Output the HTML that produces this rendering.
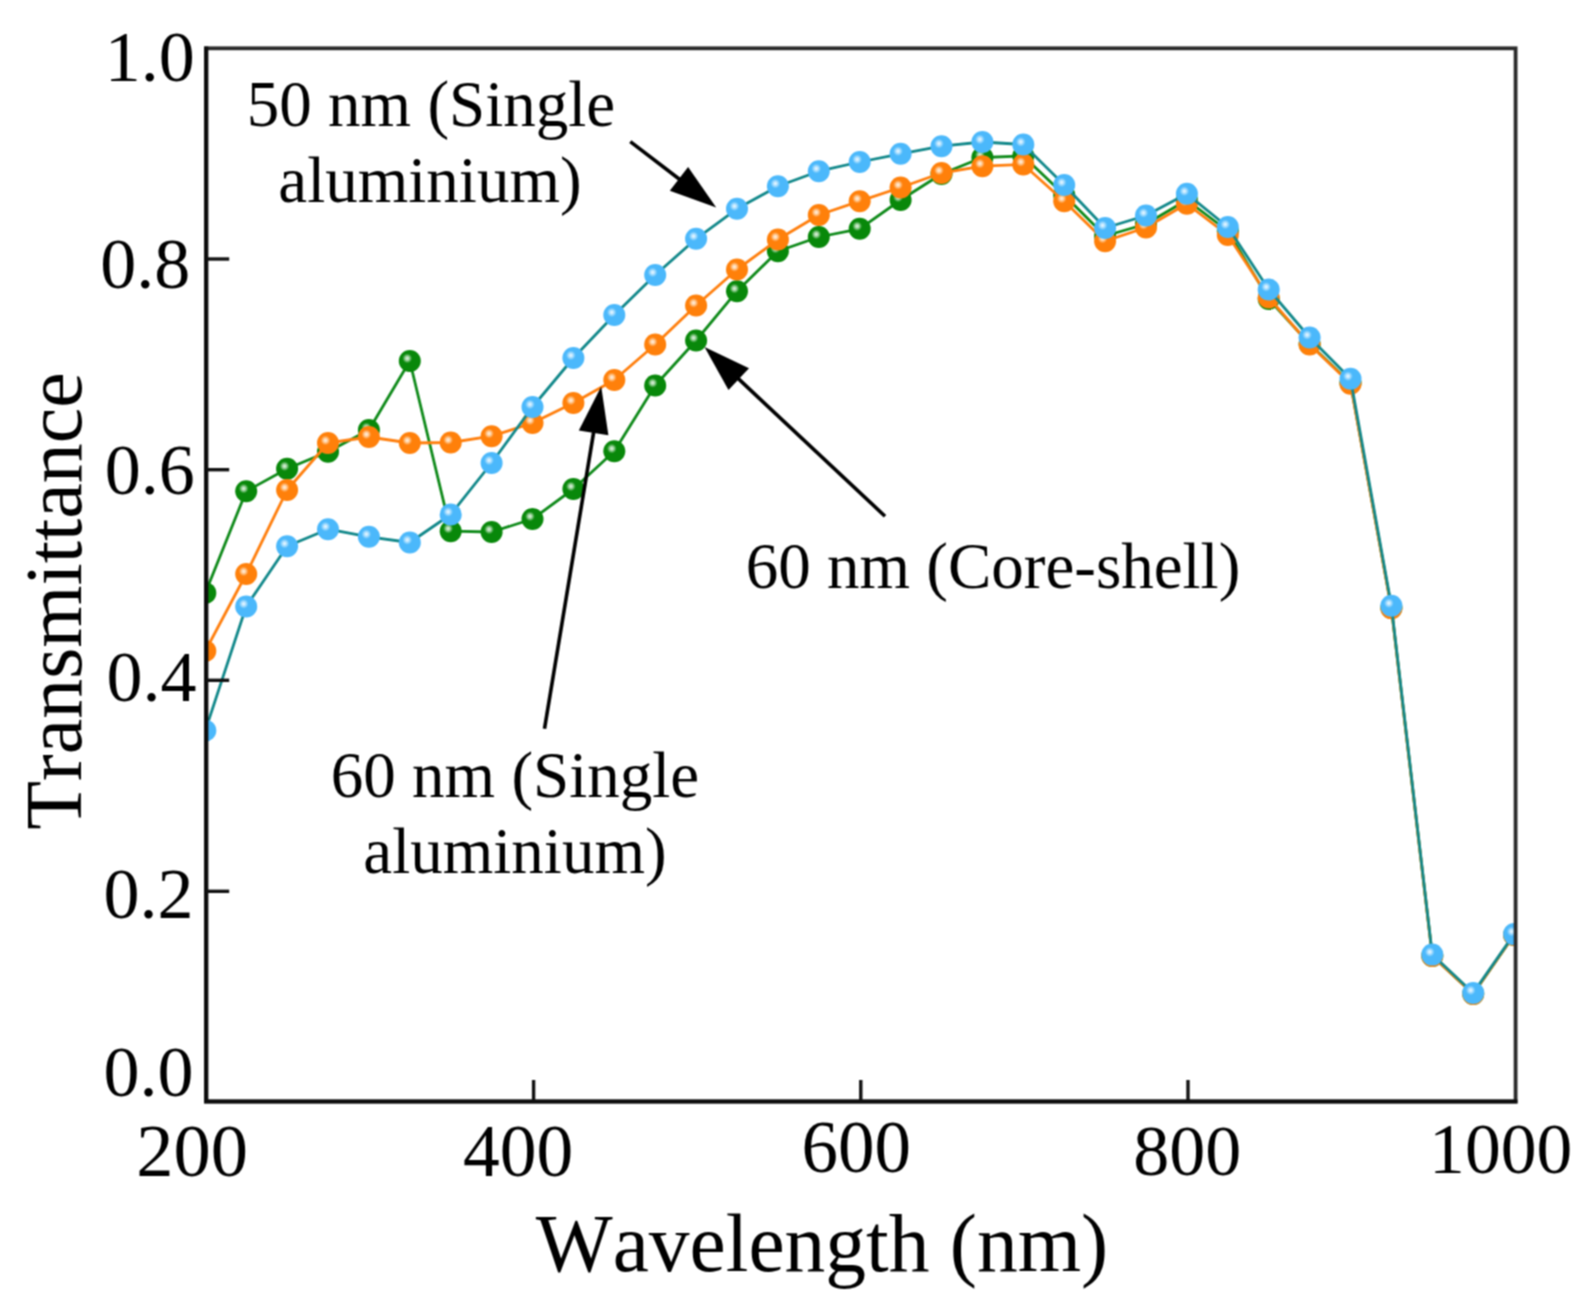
<!DOCTYPE html>
<html lang="en"><head><meta charset="utf-8"><title>Transmittance vs Wavelength</title>
<style>html,body{margin:0;padding:0;background:#fff}body{width:1580px;height:1306px;overflow:hidden}</style></head>
<body>
<svg width="1580" height="1306" viewBox="0 0 1580 1306" style="display:block;font-family:'Liberation Serif',serif;font-kerning:none">
<defs>
<filter id="soft" x="0" y="0" width="1580" height="1306" filterUnits="userSpaceOnUse" color-interpolation-filters="sRGB"><feConvolveMatrix order="3" kernelMatrix="1 2 1 2 4 2 1 2 1" divisor="16" edgeMode="duplicate" preserveAlpha="false"/></filter>
<radialGradient id="gG" cx="0.385" cy="0.38" r="0.5"><stop offset="0" stop-color="#e6f5e6"/><stop offset="0.17" stop-color="#a9d8a9"/><stop offset="0.44" stop-color="#08880a"/><stop offset="1" stop-color="#08880a"/></radialGradient>
<radialGradient id="gO" cx="0.385" cy="0.38" r="0.5"><stop offset="0" stop-color="#fff3e6"/><stop offset="0.17" stop-color="#ffd4a8"/><stop offset="0.44" stop-color="#ff800a"/><stop offset="1" stop-color="#ff800a"/></radialGradient>
<radialGradient id="gB" cx="0.385" cy="0.38" r="0.5"><stop offset="0" stop-color="#f0faff"/><stop offset="0.17" stop-color="#b9e4ff"/><stop offset="0.44" stop-color="#4bb8fb"/><stop offset="1" stop-color="#4bb8fb"/></radialGradient>
<clipPath id="clip"><rect x="206" y="48" width="1310" height="1053.5"/></clipPath>
</defs>
<g filter="url(#soft)">
<rect width="1580" height="1306" fill="#fff"/>
<g clip-path="url(#clip)">
<polyline points="205.3,593.0 246.2,491.2 287.1,468.8 328.0,451.8 368.9,430.0 409.8,361.0 450.7,531.2 491.6,532.0 532.5,519.0 573.4,489.0 614.3,451.2 655.2,385.5 696.1,340.5 737.0,291.2 777.9,251.2 818.8,237.0 859.7,228.8 900.6,200.0 941.5,174.0 982.4,157.5 1023.3,156.0 1064.2,195.0 1105.1,236.0 1146.0,224.0 1186.9,200.0 1227.8,231.0 1268.7,299.0 1309.6,344.0 1350.5,383.0 1391.4,608.0 1432.3,956.0 1473.2,994.0 1514.1,935.0" fill="none" stroke="#0f8a1a" stroke-width="2.8" stroke-linejoin="round"/>
<circle cx="205.3" cy="593.0" r="11" fill="url(#gG)"/>
<circle cx="246.2" cy="491.2" r="11" fill="url(#gG)"/>
<circle cx="287.1" cy="468.8" r="11" fill="url(#gG)"/>
<circle cx="328.0" cy="451.8" r="11" fill="url(#gG)"/>
<circle cx="368.9" cy="430.0" r="11" fill="url(#gG)"/>
<circle cx="409.8" cy="361.0" r="11" fill="url(#gG)"/>
<circle cx="450.7" cy="531.2" r="11" fill="url(#gG)"/>
<circle cx="491.6" cy="532.0" r="11" fill="url(#gG)"/>
<circle cx="532.5" cy="519.0" r="11" fill="url(#gG)"/>
<circle cx="573.4" cy="489.0" r="11" fill="url(#gG)"/>
<circle cx="614.3" cy="451.2" r="11" fill="url(#gG)"/>
<circle cx="655.2" cy="385.5" r="11" fill="url(#gG)"/>
<circle cx="696.1" cy="340.5" r="11" fill="url(#gG)"/>
<circle cx="737.0" cy="291.2" r="11" fill="url(#gG)"/>
<circle cx="777.9" cy="251.2" r="11" fill="url(#gG)"/>
<circle cx="818.8" cy="237.0" r="11" fill="url(#gG)"/>
<circle cx="859.7" cy="228.8" r="11" fill="url(#gG)"/>
<circle cx="900.6" cy="200.0" r="11" fill="url(#gG)"/>
<circle cx="941.5" cy="174.0" r="11" fill="url(#gG)"/>
<circle cx="982.4" cy="157.5" r="11" fill="url(#gG)"/>
<circle cx="1023.3" cy="156.0" r="11" fill="url(#gG)"/>
<circle cx="1064.2" cy="195.0" r="11" fill="url(#gG)"/>
<circle cx="1105.1" cy="236.0" r="11" fill="url(#gG)"/>
<circle cx="1146.0" cy="224.0" r="11" fill="url(#gG)"/>
<circle cx="1186.9" cy="200.0" r="11" fill="url(#gG)"/>
<circle cx="1227.8" cy="231.0" r="11" fill="url(#gG)"/>
<circle cx="1268.7" cy="299.0" r="11" fill="url(#gG)"/>
<circle cx="1309.6" cy="344.0" r="11" fill="url(#gG)"/>
<circle cx="1350.5" cy="383.0" r="11" fill="url(#gG)"/>
<circle cx="1391.4" cy="608.0" r="11" fill="url(#gG)"/>
<circle cx="1432.3" cy="956.0" r="11" fill="url(#gG)"/>
<circle cx="1473.2" cy="994.0" r="11" fill="url(#gG)"/>
<circle cx="1514.1" cy="935.0" r="11" fill="url(#gG)"/>

<polyline points="205.3,651.0 246.2,574.0 287.1,490.0 328.0,443.0 368.9,437.0 409.8,443.0 450.7,442.5 491.6,436.2 532.5,423.0 573.4,403.0 614.3,380.0 655.2,344.5 696.1,305.5 737.0,269.5 777.9,239.5 818.8,215.0 859.7,201.2 900.6,187.5 941.5,173.0 982.4,166.2 1023.3,164.5 1064.2,201.2 1105.1,241.2 1146.0,227.5 1186.9,203.8 1227.8,235.0 1268.7,297.5 1309.6,344.5 1350.5,383.8 1391.4,608.2 1432.3,956.0 1473.2,994.0 1514.1,935.0" fill="none" stroke="#ff7f0e" stroke-width="2.8" stroke-linejoin="round"/>
<circle cx="205.3" cy="651.0" r="11" fill="url(#gO)"/>
<circle cx="246.2" cy="574.0" r="11" fill="url(#gO)"/>
<circle cx="287.1" cy="490.0" r="11" fill="url(#gO)"/>
<circle cx="328.0" cy="443.0" r="11" fill="url(#gO)"/>
<circle cx="368.9" cy="437.0" r="11" fill="url(#gO)"/>
<circle cx="409.8" cy="443.0" r="11" fill="url(#gO)"/>
<circle cx="450.7" cy="442.5" r="11" fill="url(#gO)"/>
<circle cx="491.6" cy="436.2" r="11" fill="url(#gO)"/>
<circle cx="532.5" cy="423.0" r="11" fill="url(#gO)"/>
<circle cx="573.4" cy="403.0" r="11" fill="url(#gO)"/>
<circle cx="614.3" cy="380.0" r="11" fill="url(#gO)"/>
<circle cx="655.2" cy="344.5" r="11" fill="url(#gO)"/>
<circle cx="696.1" cy="305.5" r="11" fill="url(#gO)"/>
<circle cx="737.0" cy="269.5" r="11" fill="url(#gO)"/>
<circle cx="777.9" cy="239.5" r="11" fill="url(#gO)"/>
<circle cx="818.8" cy="215.0" r="11" fill="url(#gO)"/>
<circle cx="859.7" cy="201.2" r="11" fill="url(#gO)"/>
<circle cx="900.6" cy="187.5" r="11" fill="url(#gO)"/>
<circle cx="941.5" cy="173.0" r="11" fill="url(#gO)"/>
<circle cx="982.4" cy="166.2" r="11" fill="url(#gO)"/>
<circle cx="1023.3" cy="164.5" r="11" fill="url(#gO)"/>
<circle cx="1064.2" cy="201.2" r="11" fill="url(#gO)"/>
<circle cx="1105.1" cy="241.2" r="11" fill="url(#gO)"/>
<circle cx="1146.0" cy="227.5" r="11" fill="url(#gO)"/>
<circle cx="1186.9" cy="203.8" r="11" fill="url(#gO)"/>
<circle cx="1227.8" cy="235.0" r="11" fill="url(#gO)"/>
<circle cx="1268.7" cy="297.5" r="11" fill="url(#gO)"/>
<circle cx="1309.6" cy="344.5" r="11" fill="url(#gO)"/>
<circle cx="1350.5" cy="383.8" r="11" fill="url(#gO)"/>
<circle cx="1391.4" cy="608.2" r="11" fill="url(#gO)"/>
<circle cx="1432.3" cy="956.0" r="11" fill="url(#gO)"/>
<circle cx="1473.2" cy="994.0" r="11" fill="url(#gO)"/>
<circle cx="1514.1" cy="935.0" r="11" fill="url(#gO)"/>

<polyline points="205.3,730.5 246.2,606.5 287.1,546.2 328.0,529.2 368.9,536.8 409.8,542.5 450.7,514.5 491.6,463.0 532.5,407.0 573.4,358.0 614.3,315.0 655.2,275.0 696.1,238.8 737.0,208.8 777.9,186.2 818.8,171.2 859.7,162.0 900.6,153.8 941.5,146.2 982.4,142.0 1023.3,144.5 1064.2,185.0 1105.1,228.0 1146.0,215.5 1186.9,193.8 1227.8,227.0 1268.7,289.5 1309.6,337.5 1350.5,378.8 1391.4,605.8 1432.3,954.6 1473.2,992.9 1514.1,934.1" fill="none" stroke="#12888a" stroke-width="2.8" stroke-linejoin="round"/>
<circle cx="205.3" cy="730.5" r="11" fill="url(#gB)"/>
<circle cx="246.2" cy="606.5" r="11" fill="url(#gB)"/>
<circle cx="287.1" cy="546.2" r="11" fill="url(#gB)"/>
<circle cx="328.0" cy="529.2" r="11" fill="url(#gB)"/>
<circle cx="368.9" cy="536.8" r="11" fill="url(#gB)"/>
<circle cx="409.8" cy="542.5" r="11" fill="url(#gB)"/>
<circle cx="450.7" cy="514.5" r="11" fill="url(#gB)"/>
<circle cx="491.6" cy="463.0" r="11" fill="url(#gB)"/>
<circle cx="532.5" cy="407.0" r="11" fill="url(#gB)"/>
<circle cx="573.4" cy="358.0" r="11" fill="url(#gB)"/>
<circle cx="614.3" cy="315.0" r="11" fill="url(#gB)"/>
<circle cx="655.2" cy="275.0" r="11" fill="url(#gB)"/>
<circle cx="696.1" cy="238.8" r="11" fill="url(#gB)"/>
<circle cx="737.0" cy="208.8" r="11" fill="url(#gB)"/>
<circle cx="777.9" cy="186.2" r="11" fill="url(#gB)"/>
<circle cx="818.8" cy="171.2" r="11" fill="url(#gB)"/>
<circle cx="859.7" cy="162.0" r="11" fill="url(#gB)"/>
<circle cx="900.6" cy="153.8" r="11" fill="url(#gB)"/>
<circle cx="941.5" cy="146.2" r="11" fill="url(#gB)"/>
<circle cx="982.4" cy="142.0" r="11" fill="url(#gB)"/>
<circle cx="1023.3" cy="144.5" r="11" fill="url(#gB)"/>
<circle cx="1064.2" cy="185.0" r="11" fill="url(#gB)"/>
<circle cx="1105.1" cy="228.0" r="11" fill="url(#gB)"/>
<circle cx="1146.0" cy="215.5" r="11" fill="url(#gB)"/>
<circle cx="1186.9" cy="193.8" r="11" fill="url(#gB)"/>
<circle cx="1227.8" cy="227.0" r="11" fill="url(#gB)"/>
<circle cx="1268.7" cy="289.5" r="11" fill="url(#gB)"/>
<circle cx="1309.6" cy="337.5" r="11" fill="url(#gB)"/>
<circle cx="1350.5" cy="378.8" r="11" fill="url(#gB)"/>
<circle cx="1391.4" cy="605.8" r="11" fill="url(#gB)"/>
<circle cx="1432.3" cy="954.6" r="11" fill="url(#gB)"/>
<circle cx="1473.2" cy="992.9" r="11" fill="url(#gB)"/>
<circle cx="1514.1" cy="934.1" r="11" fill="url(#gB)"/>

</g>
<rect x="206.2" y="48.3" width="1309.4" height="1053.2" fill="none" stroke="#2a2a2a" stroke-width="3.8"/>
<polyline points="206.2,46.4 206.2,1101.5 1517.5,1101.5" fill="none" stroke="#0c0c0c" stroke-width="4.2" stroke-linejoin="miter"/>
<line x1="206.2" y1="259" x2="229.2" y2="259" stroke="#111" stroke-width="3.4"/>
<line x1="206.2" y1="469.7" x2="229.2" y2="469.7" stroke="#111" stroke-width="3.4"/>
<line x1="206.2" y1="680.3" x2="229.2" y2="680.3" stroke="#111" stroke-width="3.4"/>
<line x1="206.2" y1="891.3" x2="229.2" y2="891.3" stroke="#111" stroke-width="3.4"/>
<line x1="533.6" y1="1101.5" x2="533.6" y2="1080.0" stroke="#111" stroke-width="3.4"/>
<line x1="860.8" y1="1101.5" x2="860.8" y2="1080.0" stroke="#111" stroke-width="3.4"/>
<line x1="1188.0" y1="1101.5" x2="1188.0" y2="1080.0" stroke="#111" stroke-width="3.4"/>
<text x="194.8" y="81" font-size="72" text-anchor="end" fill="#000">1.0</text>
<text x="190.2" y="288" font-size="72" text-anchor="end" fill="#000">0.8</text>
<text x="194.8" y="494" font-size="72" text-anchor="end" fill="#000">0.6</text>
<text x="196.5" y="700.5" font-size="72" text-anchor="end" fill="#000">0.4</text>
<text x="193.5" y="918.3" font-size="72" text-anchor="end" fill="#000">0.2</text>
<text x="193.5" y="1096.3" font-size="72" text-anchor="end" fill="#000">0.0</text>
<text x="192.1" y="1176" font-size="74.5" text-anchor="middle" fill="#000">200</text>
<text x="518" y="1176.3" font-size="73.5" text-anchor="middle" fill="#000">400</text>
<text x="856.2" y="1172.2" font-size="73" text-anchor="middle" fill="#000">600</text>
<text x="1187.2" y="1175" font-size="72" text-anchor="middle" fill="#000">800</text>
<text x="1500.7" y="1173" font-size="71.6" text-anchor="middle" fill="#000">1000</text>
<text x="822" y="1271" font-size="81.5" text-anchor="middle" fill="#000">Wavelength (nm)</text>
<text transform="translate(81,601) rotate(-90)" font-size="80" text-anchor="middle" fill="#000">Transmittance</text>
<text x="431" y="126" font-size="65" text-anchor="middle" fill="#000">50 nm (Single</text>
<text x="430" y="202" font-size="65" text-anchor="middle" fill="#000">aluminium)</text>
<text x="515" y="797" font-size="65" text-anchor="middle" fill="#000">60 nm (Single</text>
<text x="515" y="873" font-size="65" text-anchor="middle" fill="#000">aluminium)</text>
<text x="993" y="587.5" font-size="65" text-anchor="middle" fill="#000">60 nm (Core-shell)</text>
<line x1="630.3" y1="141.6" x2="682.1" y2="181.3" stroke="#000" stroke-width="3.6"/>
<polygon points="716.2,207.5 669.8,190.8 688.1,167.0" fill="#000"/>

<line x1="885.0" y1="516.2" x2="735.9" y2="376.4" stroke="#000" stroke-width="3.6"/>
<polygon points="704.5,347.0 749.0,368.2 728.5,390.1" fill="#000"/>

<line x1="544.5" y1="728.8" x2="594.2" y2="428.9" stroke="#000" stroke-width="3.6"/>
<polygon points="601.2,386.5 608.4,435.3 578.8,430.4" fill="#000"/>

</g>
</svg>
</body></html>
